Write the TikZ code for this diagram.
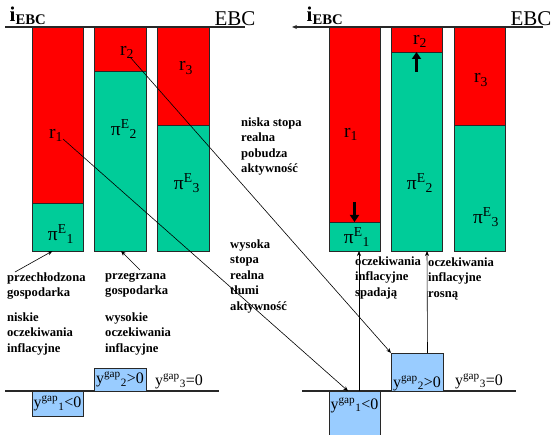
\documentclass[tikz,border=0pt]{standalone}
\usepackage{fontspec}
\setmainfont{Liberation Serif}
\usetikzlibrary{arrows.meta,calc}
\definecolor{barred}{RGB}{255,0,0}
\definecolor{bargreen}{RGB}{0,204,153}
\definecolor{gapblue}{RGB}{153,204,255}
\definecolor{edge}{RGB}{40,40,40}
\begin{document}
\begin{tikzpicture}[x=1pt,y=-1pt,
  bar/.style={draw=edge, line width=0.8pt, inner sep=0pt, outer sep=0pt, anchor=north west},
  redbar/.style={bar, fill=barred},
  greenbar/.style={bar, fill=bargreen},
  gapbox/.style={draw=edge, line width=0.8pt, fill=gapblue, inner sep=0pt, outer sep=0pt, anchor=north west},
  axisline/.style={line width=1.1pt, draw=edge},
  note/.style={font=\fontsize{12.6}{15.5}\selectfont\bfseries, align=left, anchor=north west, inner sep=0pt, execute at begin node=\strut},
  sym/.style={font=\fontsize{19.5}{21}\selectfont, inner sep=0pt},
  gaptext/.style={font=\fontsize{16}{18}\selectfont, inner sep=0pt},
  title/.style={font=\fontsize{21}{23}\selectfont, inner sep=0pt},
  thinarrow/.style={line width=0.6pt, draw=black, -{Stealth[length=5pt,width=4pt]}},
  fatarrow/.style={line width=2.6pt, draw=black, -{Triangle[length=7pt,width=9pt]}}
]
\fill[white] (0,0) rectangle (552,435);
\useasboundingbox (0,0) rectangle (552,435);

% ---------------- left panel ----------------
\node[redbar, minimum width=51pt, minimum height=176pt] (L1r) at (32,27) {};
\node[greenbar, minimum width=51pt, minimum height=48pt] (L1g) at (32,203) {};
\node[redbar, minimum width=52pt, minimum height=44pt] (L2r) at (94,27) {};
\node[greenbar, minimum width=52pt, minimum height=180pt] (L2g) at (94,71) {};
\node[redbar, minimum width=52pt, minimum height=98pt] (L3r) at (157,27) {};
\node[greenbar, minimum width=52pt, minimum height=126pt] (L3g) at (157,125) {};
\coordinate (LaxS) at (5,27);
\coordinate (LaxE) at (245,27);
\draw[axisline] (LaxS) -- (LaxE);
\node[title, font=\fontsize{21}{23}\selectfont\bfseries] (Lier) at (28,16) {i\textsubscript{EBC}};
\node[title] (Lebc) at (235,19) {EBC};

\node[sym] (Lr1) at (56,135) {r\textsubscript{1}};
\node[sym] (Lr2) at (127,52) {r\textsubscript{2}};
\node[sym] (Lr3) at (186,68) {r\textsubscript{3}};
\node[sym] (Lp1) at (61,234) {π\textsuperscript{E}\textsubscript{1}};
\node[sym] (Lp2) at (124,129) {π\textsuperscript{E}\textsubscript{2}};
\node[sym] (Lp3) at (187,183) {π\textsuperscript{E}\textsubscript{3}};

\node[note] (Lt1) at (7,272.5) {przechłodzona\\gospodarka};
\node[note] (Lt2) at (105,272.5) {przegrzana\\gospodarka};
\node[note] (Lt3) at (7,312.5) {niskie\\oczekiwania\\inflacyjne};
\node[note] (Lt4) at (105,312.5) {wysokie\\oczekiwania\\inflacyjne};
\coordinate (La1) at (15,272);
\coordinate (La2) at (140,270);
\draw[thinarrow] (La1) -- ($(L1g.south)+(-5,0)$);
\draw[thinarrow] (La2) -- ($(L2g.south)+(1,0)$);

\coordinate (LbS) at (5,391);
\coordinate (LbE) at (219,391);
\draw[axisline] (LbS) -- (LbE);
\node[gapbox, minimum width=51pt, minimum height=25pt] (Lg1) at (32,391) {};
\node[gapbox, minimum width=52pt, minimum height=23pt] (Lg2) at (94,368) {};
\node[gaptext] at (Lg1.center) {y\textsuperscript{gap}\textsubscript{1}<0};
\node[gaptext] at (Lg2.center) {y\textsuperscript{gap}\textsubscript{2}>0};
\node[gaptext] (Lg3) at (179,381) {y\textsuperscript{gap}\textsubscript{3}=0};

% ---------------- right panel ----------------
\node[redbar, minimum width=51pt, minimum height=195pt] (R1r) at (329,27) {};
\node[greenbar, minimum width=51pt, minimum height=29pt] (R1g) at (329,222) {};
\node[redbar, minimum width=51pt, minimum height=25pt] (R2r) at (391,27) {};
\node[greenbar, minimum width=51pt, minimum height=199pt] (R2g) at (391,52) {};
\node[redbar, minimum width=51pt, minimum height=98pt] (R3r) at (454,27) {};
\node[greenbar, minimum width=51pt, minimum height=126pt] (R3g) at (454,125) {};
\coordinate (RaxS) at (543,27);
\coordinate (RaxE) at (292,27);
\draw[axisline, -{Stealth[length=5pt,width=4pt]}] (RaxS) -- (RaxE);
\node[title, font=\fontsize{21}{23}\selectfont\bfseries] (Rier) at (325,16) {i\textsubscript{EBC}};
\node[title] (Rebc) at (531,19) {EBC};

\node[sym] (Rr1) at (351,134) {r\textsubscript{1}};
\node[sym] (Rr2) at (420,41) {r\textsubscript{2}};
\node[sym] (Rr3) at (481,80) {r\textsubscript{3}};
\node[sym] (Rp1) at (357,237) {π\textsuperscript{E}\textsubscript{1}};
\node[sym] (Rp2) at (420,183) {π\textsuperscript{E}\textsubscript{2}};
\node[sym] (Rp3) at (486,217) {π\textsuperscript{E}\textsubscript{3}};

\draw[fatarrow] ($(R1g.north)+(0,-20)$) -- (R1g.north);
\draw[fatarrow] ($(R2g.north)+(0,20)$) -- (R2g.north);

\coordinate (RbS) at (302,391);
\coordinate (RbE) at (516,391);
\draw[axisline] (RbS) -- (RbE);
\node[gapbox, minimum width=51pt, minimum height=44pt] (Rg1) at (329,391) {};
\node[gapbox, minimum width=52pt, minimum height=38pt] (Rg2) at (391,353) {};
\node[gaptext] at (354.5,405) {y\textsuperscript{gap}\textsubscript{1}<0};
\node[gaptext] at (417,383) {y\textsuperscript{gap}\textsubscript{2}>0};
\node[gaptext] (Rg3) at (479,381) {y\textsuperscript{gap}\textsubscript{3}=0};

\draw[thinarrow] ($(Rg1.north)+(4.5,0)$) -- ($(R1g.south)+(4.5,0)$);
\draw[thinarrow] ($(Rg2.north)+(10.5,0)$) -- ($(R2g.south)+(10.5,0)$);

\node[note] (Rt1) at (355,256.5) {oczekiwania\\inflacyjne\\spadają};
\node[note] (Rt2) at (428,257.5) {oczekiwania\\inflacyjne\\rosną};

% ---------------- middle ----------------
\node[note] (Mt1) at (241,117.5) {niska stopa\\realna\\pobudza\\aktywność};
\node[note] (Mt2) at (230,239.5) {wysoka\\stopa\\realna\\tłumi\\aktywność};

\coordinate (D2s) at (130,57);
\coordinate (D1s) at (63,139);
\draw[thinarrow] (D2s) -- (Rg2.north west);
\draw[thinarrow] (D1s) -- ($(Rg1.north west)+(19,0)$);
\end{tikzpicture}
\end{document}
